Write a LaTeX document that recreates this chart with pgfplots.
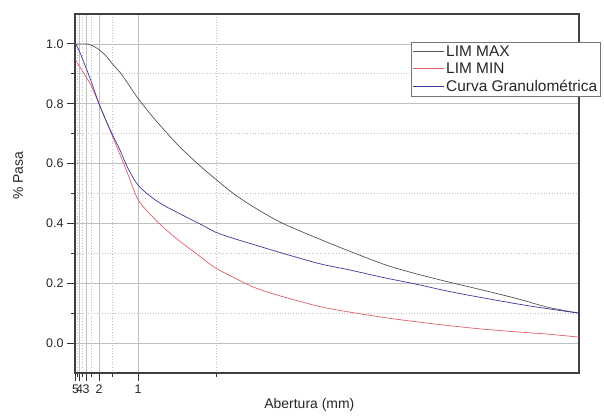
\documentclass[border=0pt]{standalone}
\usepackage{pgfplots}
\pgfplotsset{compat=1.18}
\usepackage{fontspec}
\setmainfont{Liberation Sans}
\definecolor{cmax}{HTML}{555555}
\definecolor{cmin}{HTML}{E0606A}
\definecolor{cgran}{HTML}{3A3A9E}
\definecolor{grid}{HTML}{D9D9D9}
\begin{document}
\begin{tikzpicture}
\begin{axis}[
  scale only axis,
  width=504bp, height=359bp,
  x coord trafo/.code={\pgfmathparse{1/(#1)}},
  x coord inv trafo/.code={\pgfmathparse{1/(#1)}},
  xmin=5.2, xmax=0.1503,
  ymin=-0.1, ymax=1.1,
  xtick={5,4,3,2,1},
  xticklabels={5,4,3,2,1},
  minor xtick={4.5,3.5,2.5,1.5,0.5},
  ytick={0,0.2,0.4,0.6,0.8,1.0},
  minor ytick={0.1,0.3,0.5,0.7,0.9},
  yticklabel style={/pgf/number format/.cd,fixed,fixed zerofill,precision=1},
  /pgf/number format/assume math mode=true,
  tick label style={font=\fontsize{12.5}{14}\selectfont, text=black!85},
  tick align=outside,
  xtick pos=bottom, ytick pos=left,
  major tick length=8bp, minor tick length=4bp,
  every tick/.style={black!80, line width=0.9bp},
  grid=both,
  major grid style={grid, line width=0.7bp},
  minor grid style={grid, line width=0.7bp, dotted},
  axis line style={black!75, line width=1.3bp},
  xlabel={Abertura (mm)},
  ylabel={\% Pasa},
  label style={font=\fontsize{14}{16}\selectfont, text=black!85},
  xlabel style={at={(axis description cs:0.465,-0.089)}, anchor=center},
  ylabel style={at={(axis description cs:-0.113,0.549)}, anchor=center, rotate=0},
  legend style={at={(1.0437,0.923)}, anchor=north east, draw=black!55, line width=0.6bp,
    fill=white, font=\fontsize{15.5}{16}\selectfont, inner sep=1.5bp, row sep=1.2bp,
    cells={anchor=west, text=black!85}},
  legend image code/.code={\draw[#1, line width=0.8bp] (0bp,0bp) -- (31bp,0bp);},
  clip=true,
]
\addplot[cmax, line width=0.7bp, smooth] coordinates {
(5,1.0) (4,1.0) (3,1.0) (2.5,0.996) (2,0.981) (1.7,0.96) (1.5,0.935) (1.3,0.905)
(1.15,0.868) (1,0.818) (0.85,0.76) (0.75,0.713) (0.65,0.655) (0.55,0.587) (0.5,0.547)
(0.45,0.50) (0.4,0.452) (0.35,0.40) (0.3,0.347) (0.27,0.308) (0.24,0.262) (0.22,0.233)
(0.2,0.203) (0.185,0.178) (0.17,0.147) (0.16,0.12) (0.1503,0.10)
};
\addlegendentry{LIM MAX}
\addplot[cmin, line width=0.7bp, smooth] coordinates {
(5,0.945) (4,0.925) (3,0.89) (2.5,0.86) (2,0.80) (1.7,0.745) (1.5,0.695) (1.3,0.63)
(1.15,0.565) (1,0.48) (0.85,0.425) (0.75,0.385) (0.65,0.34) (0.55,0.285) (0.5,0.25)
(0.45,0.22) (0.4,0.185) (0.35,0.155) (0.3,0.122) (0.27,0.104) (0.24,0.085) (0.22,0.072)
(0.2,0.058) (0.185,0.047) (0.17,0.037) (0.16,0.03) (0.1503,0.02)
};
\addlegendentry{LIM MIN}
\addplot[cgran, line width=0.7bp, smooth] coordinates {
(5,1.0) (4,0.975) (3,0.92) (2.5,0.875) (2,0.80) (1.7,0.745) (1.5,0.70) (1.3,0.645)
(1.15,0.585) (1,0.528) (0.85,0.487) (0.75,0.46) (0.65,0.432) (0.55,0.395) (0.5,0.37)
(0.45,0.35) (0.4,0.328) (0.35,0.30) (0.3,0.265) (0.27,0.245) (0.24,0.218) (0.22,0.198)
(0.2,0.172) (0.185,0.152) (0.17,0.13) (0.16,0.115) (0.1503,0.10)
};
\addlegendentry{Curva Granulométrica}
\end{axis}
\path (current axis.south west) ++(-75bp,-45bp) rectangle ++(604bp,418bp);
\end{tikzpicture}
\end{document}
